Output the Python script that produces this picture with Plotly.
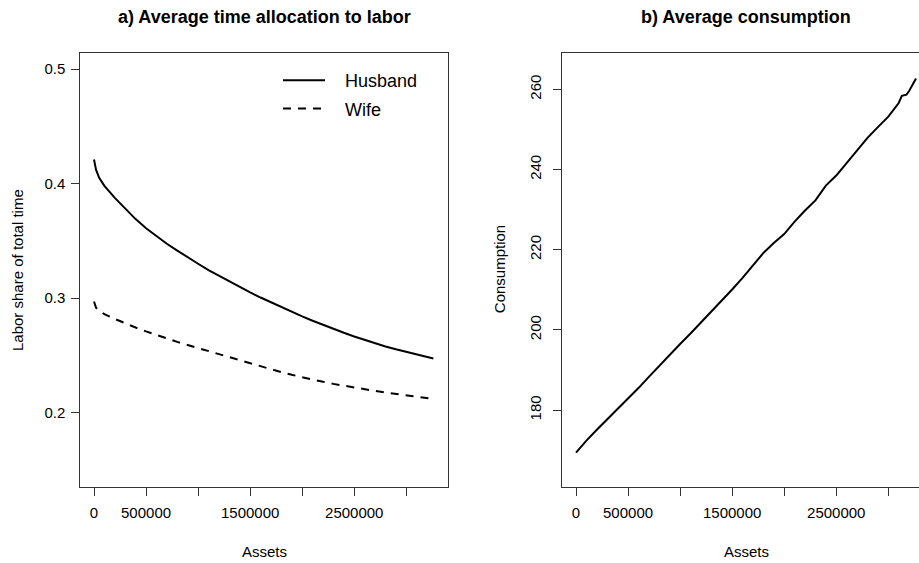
import plotly.graph_objects as go

W, H = 919, 563

# ---------------- data ----------------
assets_labor = [0, 20000, 50000, 100000, 200000, 300000, 400000, 500000, 600000, 700000,
                800000, 900000, 1000000, 1100000, 1200000, 1300000, 1400000, 1500000,
                1600000, 1700000, 1800000, 1900000, 2000000, 2100000, 2200000, 2300000,
                2400000, 2500000, 2600000, 2700000, 2800000, 2900000, 3000000, 3100000,
                3200000, 3260000]
husband = [0.421, 0.412, 0.405, 0.398, 0.3875, 0.378, 0.369, 0.361, 0.354, 0.3475,
           0.3415, 0.3355, 0.330, 0.3245, 0.3195, 0.3145, 0.3095, 0.305,
           0.3005, 0.2962, 0.292, 0.288, 0.284, 0.2802, 0.2765, 0.273,
           0.2697, 0.2665, 0.2635, 0.2606, 0.2578, 0.2553, 0.253, 0.2508,
           0.2487, 0.2472]
wife = [0.297, 0.2915, 0.289, 0.286, 0.2818, 0.2779, 0.2743, 0.2709, 0.2677, 0.2647,
        0.2618, 0.259, 0.2563, 0.2536, 0.2509, 0.2482, 0.2456, 0.2430,
        0.2404, 0.2378, 0.2353, 0.2330, 0.2308, 0.2288, 0.2269, 0.2251,
        0.2234, 0.2218, 0.2203, 0.2189, 0.2175, 0.2162, 0.2150, 0.2138,
        0.2126, 0.2119]

assets_cons = [0, 50000, 100000, 200000, 300000, 400000, 500000, 600000, 700000,
               800000, 900000, 1000000, 1100000, 1200000, 1300000, 1400000, 1500000,
               1600000, 1700000, 1800000, 1900000, 2000000, 2100000, 2200000, 2300000,
               2400000, 2500000, 2600000, 2700000, 2800000, 2900000, 3000000, 3100000,
               3130000, 3175000, 3200000, 3266000]
consumption = [169.4, 171.0, 172.4, 175.1, 177.7, 180.2, 182.8, 185.5, 188.3,
               191.1, 193.8, 196.5, 199.1, 201.8, 204.6, 207.3, 210.1,
               213.0, 216.1, 219.2, 221.7, 223.9, 227.0, 229.8, 232.3,
               236.0, 238.5, 241.6, 244.9, 247.9, 250.6, 253.2, 256.6,
               258.4, 258.7, 259.6, 262.7]

x_tickvals = [0, 500000, 1000000, 1500000, 2000000, 2500000, 3000000]
x_ticktext = ["0", "500000", "", "1500000", "", "2500000", ""]
y1_tickvals = [0.2, 0.3, 0.4, 0.5]
y1_ticktext = ["0.2", "0.3", "0.4", "0.5"]
y2_tickvals = [180, 200, 220, 240, 260]
y2_ticktext = ["180", "200", "220", "240", "260"]

title_a = "a) Average time allocation to labor"
title_b = "b) Average consumption"
xlabel = "Assets"
ylabel_a = "Labor share of total time"
ylabel_b = "Consumption"
legend_names = ["Husband", "Wife"]

# ---------------- layout geometry (pixels) ----------------
L1, R1 = 80.3, 447.7
L2, R2 = 562.3, 919.0
TOP, BOT = 52.7, 486.7

def fx(px):
    return px / W

def fy(py):
    return 1 - py / H

FONT = "Arial, Liberation Sans, sans-serif"
INK = "#000000"
FRAME = "#333333"
PAD = "\u00a0\u00a0\u00a0"

fig = go.Figure()
fig.add_trace(go.Scatter(x=assets_labor, y=husband, mode="lines", name=PAD + legend_names[0],
                         legendgroup="h",
                         line=dict(color=INK, width=2), xaxis="x", yaxis="y"))
fig.add_trace(go.Scatter(x=assets_labor, y=wife, mode="lines", name=PAD + legend_names[1],
                         legendgroup="w",
                         line=dict(color=INK, width=2, dash="8px,7px"), xaxis="x", yaxis="y"))
fig.add_trace(go.Scatter(x=assets_cons, y=consumption, mode="lines", name=ylabel_b,
                         showlegend=False,
                         line=dict(color=INK, width=2), xaxis="x2", yaxis="y2"))

common_x = dict(tickmode="array", tickvals=x_tickvals, ticktext=x_ticktext,
                ticks="outside", ticklen=8, tickwidth=1, tickcolor=FRAME,
                showline=True, linecolor=FRAME, linewidth=1,
                showgrid=False, zeroline=False,
                tickfont=dict(family=FONT, size=15, color=INK),
                ticklabelstandoff=4)

fig.update_layout(
    width=W, height=H, autosize=False,
    margin=dict(l=0, r=0, t=0, b=0, pad=0),
    paper_bgcolor="white", plot_bgcolor="white",
    xaxis=dict(domain=[fx(L1), fx(R1)], range=[-131600, 3397700], anchor="y",
               mirror=True, **common_x),
    yaxis=dict(domain=[fy(BOT), fy(TOP)], range=[0.1353, 0.5143], anchor="x",
               tickmode="array", tickvals=y1_tickvals, ticktext=y1_ticktext,
               ticks="outside", ticklen=8, tickwidth=1, tickcolor=FRAME,
               showline=True, linecolor=FRAME, linewidth=1, mirror=True,
               showgrid=False, zeroline=False, tickangle=0,
               tickfont=dict(family=FONT, size=15, color=INK),
               ticklabelstandoff=3),
    xaxis2=dict(domain=[fx(L2), fx(R2)], range=[-131600, 3294900], anchor="y2",
                mirror=True, **common_x),
    yaxis2=dict(domain=[fy(BOT), fy(TOP)], range=[160.9, 269.15], anchor="x2",
                tickmode="array", tickvals=y2_tickvals, ticktext=y2_ticktext,
                ticks="outside", ticklen=8, tickwidth=1, tickcolor=FRAME,
                showline=True, linecolor=FRAME, linewidth=1, mirror=False,
                showgrid=False, zeroline=False, tickangle=-90,
                tickfont=dict(family=FONT, size=15, color=INK),
                ticklabelstandoff=6),
    showlegend=True,
    legend=dict(x=fx(278), y=fy(62), xanchor="left", yanchor="top",
                bgcolor="rgba(0,0,0,0)", borderwidth=0,
                font=dict(family=FONT, size=18, color=INK),
                itemwidth=42, tracegroupgap=2),
)

annotations = [
    dict(text=f"<b>{title_a}</b>", x=fx((L1 + R1) / 2), y=fy(17)),
    dict(text=f"<b>{title_b}</b>", x=fx((L2 + 929.7) / 2), y=fy(17)),
    dict(text=xlabel, x=fx((L1 + R1) / 2), y=fy(551.5)),
    dict(text=xlabel, x=fx((L2 + 929.7) / 2), y=fy(551.5)),
    dict(text=ylabel_a, x=fx(17.3), y=fy((TOP + BOT) / 2), textangle=-90),
    dict(text=ylabel_b, x=fx(499.5), y=fy((TOP + BOT) / 2), textangle=-90),
]
for i, a in enumerate(annotations):
    size = 18 if i < 2 else 15
    fig.add_annotation(xref="paper", yref="paper", xanchor="center", yanchor="middle",
                       showarrow=False, font=dict(family=FONT, size=size, color=INK), **a)

fig.write_html("out.html")
